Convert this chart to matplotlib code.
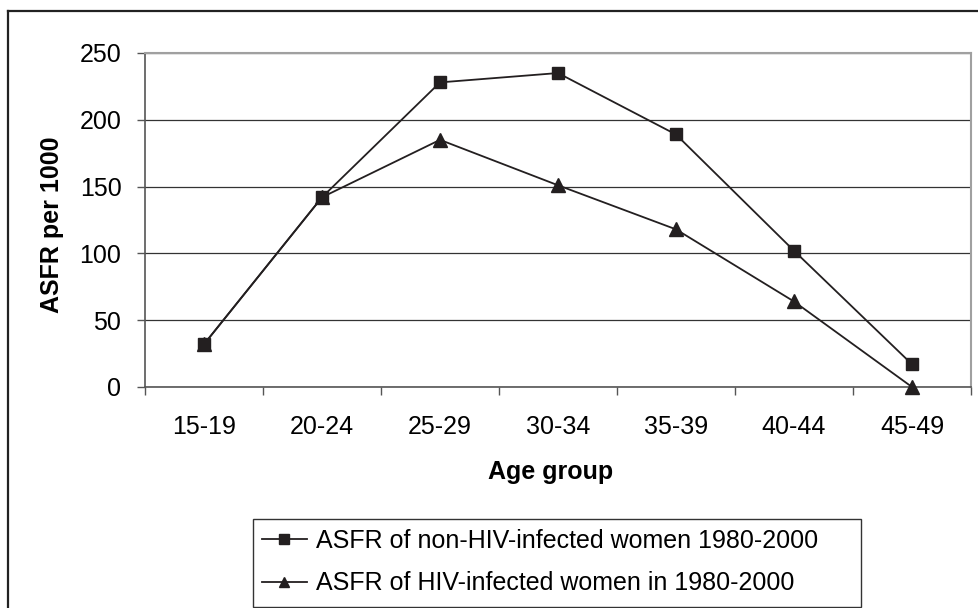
import numpy as np
import matplotlib
matplotlib.use("Agg")
import matplotlib.pyplot as plt
from matplotlib.lines import Line2D
from matplotlib.patches import Rectangle

# Data
age_groups = ["15-19", "20-24", "25-29", "30-34", "35-39", "40-44", "45-49"]
asfr_non_hiv = [32, 142, 228, 235, 189, 102, 17]
asfr_hiv = [32, 142, 185, 151, 118, 64, 0]
label_non_hiv = "ASFR of non-HIV-infected women 1980-2000"
label_hiv = "ASFR of HIV-infected women in 1980-2000"

W, H = 979, 608
plt.rcParams["font.family"] = ["Liberation Sans", "DejaVu Sans"]
FS = 18

fig = plt.figure(figsize=(W / 100, H / 100), dpi=100)

def fx(px):
    return px / W

def fy(py):
    return 1 - py / H

# plot area
ax = fig.add_axes([fx(145), fy(387), fx(971) - fx(145), fy(53) - fy(387)])

x = np.arange(len(age_groups))
line_col = "#231f20"
ax.plot(x, asfr_non_hiv, color=line_col, lw=1.3, marker="s", ms=9,
        label=label_non_hiv, clip_on=False, zorder=3)
ax.plot(x, asfr_hiv, color=line_col, lw=1.3, marker="^", ms=10,
        label=label_hiv, clip_on=False, zorder=3)

ax.set_xlim(-0.5, len(age_groups) - 0.5)
ax.set_ylim(0, 250)
ax.set_yticks(range(0, 251, 50))
ax.set_xticks(x)
ax.set_xticklabels(age_groups)
ax.set_xticks(np.arange(-0.5, len(age_groups)), minor=True)
ax.tick_params(axis="x", which="major", length=0, pad=20, labelsize=FS)
ax.tick_params(axis="x", which="minor", length=6, width=1, color="#555555",
               direction="out")
ax.tick_params(axis="y", length=6, width=1, color="#555555", pad=11,
               labelsize=FS)

ax.grid(axis="y", color="#333333", lw=0.9)
ax.set_axisbelow(True)
for side in ["top", "right"]:
    ax.spines[side].set_color("#a0a0a0")
    ax.spines[side].set_linewidth(1.5)
for side in ["left", "bottom"]:
    ax.spines[side].set_color("#555555")
    ax.spines[side].set_linewidth(1.2)

fig.text(fx(52), fy(225), "ASFR per 1000", rotation=90, fontsize=FS,
         fontweight="bold", ha="center", va="center")
fig.text(fx(551), fy(472), "Age group", fontsize=FS, fontweight="bold",
         ha="center", va="center")

# legend box
fig.add_artist(Rectangle((fx(253), fy(607)), fx(861) - fx(253), fy(519) - fy(607),
                         transform=fig.transFigure, fill=False,
                         edgecolor="#333333", lw=1.0))
handles, labels = ax.get_legend_handles_labels()
fig.legend(handles, labels, loc="upper left",
           bbox_to_anchor=(fx(262), fy(529)), frameon=False, fontsize=FS,
           handlelength=1.8, handletextpad=0.35, labelspacing=0.73,
           borderpad=0, borderaxespad=0, markerscale=0.75)

# outer chart border (top and left visible)
fig.add_artist(Line2D([fx(8), fx(8)], [0, fy(11)], transform=fig.transFigure,
                      color="#222222", lw=1.6))
fig.add_artist(Line2D([fx(8), 1], [fy(11), fy(11)], transform=fig.transFigure,
                      color="#222222", lw=1.6))

fig.savefig("out.png", dpi=100)
